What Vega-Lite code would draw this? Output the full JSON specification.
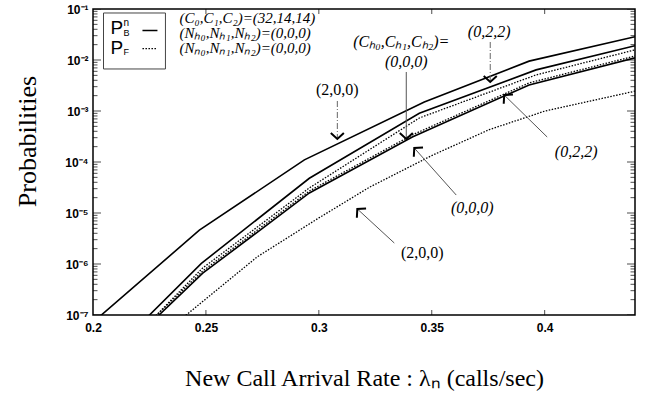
{
  "$schema": "https://vega.github.io/schema/vega-lite/v6.json",
  "width": 542,
  "height": 306,
  "autosize": "none",
  "padding": {"left": 93, "top": 9, "right": 10, "bottom": 82},
  "config": {
    "view": {"stroke": "#000", "strokeWidth": 1.5},
    "axis": {"domain": false, "grid": false, "labelColor": "#000", "titleColor": "#000"}
  },
  "datasets": {
    "curves": [
      {"lam": 0.2, "p": 7.2e-8, "series": "B200", "measure": "P_B"},
      {"lam": 0.2471, "p": 4.6e-6, "series": "B200", "measure": "P_B"},
      {"lam": 0.2936, "p": 1.1e-4, "series": "B200", "measure": "P_B"},
      {"lam": 0.3467, "p": 1.5e-3, "series": "B200", "measure": "P_B"},
      {"lam": 0.3931, "p": 9.5e-3, "series": "B200", "measure": "P_B"},
      {"lam": 0.44, "p": 2.85e-2, "series": "B200", "measure": "P_B"},
      {"lam": 0.22, "p": 6.0e-8, "series": "B022", "measure": "P_B"},
      {"lam": 0.248, "p": 1.03e-6, "series": "B022", "measure": "P_B"},
      {"lam": 0.2958, "p": 4.8e-5, "series": "B022", "measure": "P_B"},
      {"lam": 0.3445, "p": 9.0e-4, "series": "B022", "measure": "P_B"},
      {"lam": 0.3962, "p": 6.4e-3, "series": "B022", "measure": "P_B"},
      {"lam": 0.44, "p": 1.9e-2, "series": "B022", "measure": "P_B"},
      {"lam": 0.225, "p": 6.6e-8, "series": "B000", "measure": "P_B"},
      {"lam": 0.2486, "p": 6.6e-7, "series": "B000", "measure": "P_B"},
      {"lam": 0.2958, "p": 2.47e-5, "series": "B000", "measure": "P_B"},
      {"lam": 0.3414, "p": 3.1e-4, "series": "B000", "measure": "P_B"},
      {"lam": 0.3931, "p": 3.24e-3, "series": "B000", "measure": "P_B"},
      {"lam": 0.44, "p": 1.1e-2, "series": "B000", "measure": "P_B"},
      {"lam": 0.224, "p": 6.5e-8, "series": "F022", "measure": "P_F"},
      {"lam": 0.2485, "p": 8.3e-7, "series": "F022", "measure": "P_F"},
      {"lam": 0.2958, "p": 3.1e-5, "series": "F022", "measure": "P_F"},
      {"lam": 0.3445, "p": 7.3e-4, "series": "F022", "measure": "P_F"},
      {"lam": 0.3962, "p": 5.1e-3, "series": "F022", "measure": "P_F"},
      {"lam": 0.44, "p": 1.58e-2, "series": "F022", "measure": "P_F"},
      {"lam": 0.225, "p": 7.3e-8, "series": "F000", "measure": "P_F"},
      {"lam": 0.2486, "p": 7.3e-7, "series": "F000", "measure": "P_F"},
      {"lam": 0.2958, "p": 2.7e-5, "series": "F000", "measure": "P_F"},
      {"lam": 0.3414, "p": 3.4e-4, "series": "F000", "measure": "P_F"},
      {"lam": 0.3931, "p": 3.55e-3, "series": "F000", "measure": "P_F"},
      {"lam": 0.44, "p": 1.2e-2, "series": "F000", "measure": "P_F"},
      {"lam": 0.238, "p": 7.6e-8, "series": "F200", "measure": "P_F"},
      {"lam": 0.2728, "p": 1.39e-6, "series": "F200", "measure": "P_F"},
      {"lam": 0.3002, "p": 8.1e-6, "series": "F200", "measure": "P_F"},
      {"lam": 0.3224, "p": 3.2e-5, "series": "F200", "measure": "P_F"},
      {"lam": 0.3502, "p": 1.35e-4, "series": "F200", "measure": "P_F"},
      {"lam": 0.3754, "p": 4.3e-4, "series": "F200", "measure": "P_F"},
      {"lam": 0.4002, "p": 1.0e-3, "series": "F200", "measure": "P_F"},
      {"lam": 0.44, "p": 2.45e-3, "series": "F200", "measure": "P_F"}
    ],
    "yMajor": [{"p": 1e-7}, {"p": 1e-6}, {"p": 1e-5}, {"p": 1e-4}, {"p": 1e-3}, {"p": 1e-2}, {"p": 1e-1}],
    "yMinor": [
      {"p": 2e-7}, {"p": 3e-7}, {"p": 4e-7}, {"p": 5e-7}, {"p": 6e-7}, {"p": 7e-7}, {"p": 8e-7}, {"p": 9e-7},
      {"p": 2e-6}, {"p": 3e-6}, {"p": 4e-6}, {"p": 5e-6}, {"p": 6e-6}, {"p": 7e-6}, {"p": 8e-6}, {"p": 9e-6},
      {"p": 2e-5}, {"p": 3e-5}, {"p": 4e-5}, {"p": 5e-5}, {"p": 6e-5}, {"p": 7e-5}, {"p": 8e-5}, {"p": 9e-5},
      {"p": 2e-4}, {"p": 3e-4}, {"p": 4e-4}, {"p": 5e-4}, {"p": 6e-4}, {"p": 7e-4}, {"p": 8e-4}, {"p": 9e-4},
      {"p": 2e-3}, {"p": 3e-3}, {"p": 4e-3}, {"p": 5e-3}, {"p": 6e-3}, {"p": 7e-3}, {"p": 8e-3}, {"p": 9e-3},
      {"p": 2e-2}, {"p": 3e-2}, {"p": 4e-2}, {"p": 5e-2}, {"p": 6e-2}, {"p": 7e-2}, {"p": 8e-2}, {"p": 9e-2}
    ],
    "xMajor": [{"lam": 0.25}, {"lam": 0.3}, {"lam": 0.35}, {"lam": 0.4}],
    "notesItalic": [
      {"lam": 0.3365, "p": 0.02254, "label": "(Cₕ₀,Cₕ₁,Cₕ₂)="},
      {"lam": 0.33872, "p": 0.00914, "label": "(0,0,0)"},
      {"lam": 0.37544, "p": 0.0354, "label": "(0,2,2)"},
      {"lam": 0.41394, "p": 1.57e-4, "label": "(0,2,2)"},
      {"lam": 0.36792, "p": 1.25e-5, "label": "(0,0,0)"}
    ],
    "notesUpright": [
      {"lam": 0.30819, "p": 2.58e-3, "label": "(2,0,0)"},
      {"lam": 0.3458, "p": 1.64e-6, "label": "(2,0,0)"}
    ],
    "params": [
      {"lam": 0.2383, "p": 0.0667, "label": "(C₀,C₁,C₂)=(32,14,14)"},
      {"lam": 0.2383, "p": 0.0338, "label": "(Nₕ₀,Nₕ₁,Nₕ₂)=(0,0,0)"},
      {"lam": 0.2383, "p": 0.0172, "label": "(Nₙ₀,Nₙ₁,Nₙ₂)=(0,0,0)"}
    ],
    "arrowsDash": [
      {"lam": 0.30819, "p": 1.57e-3, "lam2": 0.30819, "p2": 2.9e-4},
      {"lam": 0.3759, "p": 0.02254, "lam2": 0.3759, "p2": 3.8e-3}
    ],
    "arrowsSolid": [
      {"lam": 0.33872, "p": 0.00582, "lam2": 0.33872, "p2": 2.9e-4},
      {"lam": 0.40111, "p": 3.09e-4, "lam2": 0.38208, "p2": 2.06e-3},
      {"lam": 0.36084, "p": 2.25e-5, "lam2": 0.34226, "p2": 1.88e-4},
      {"lam": 0.33341, "p": 2.58e-6, "lam2": 0.31704, "p2": 1.2e-5}
    ],
    "headsDown": [
      {"lam": 0.30819, "p": 2.83e-4},
      {"lam": 0.3759, "p": 3.71e-3},
      {"lam": 0.33872, "p": 2.83e-4}
    ],
    "headsUpLeft": [
      {"lam": 0.38208, "p": 2.06e-3},
      {"lam": 0.34226, "p": 1.88e-4},
      {"lam": 0.31704, "p": 1.2e-5}
    ],
    "legendBox": [
      {"lam": 0.20465, "p": 0.0835, "lam2": 0.23208, "p2": 0.00667}
    ],
    "legendP": [
      {"lam": 0.20774, "p": 0.03236, "label": "P"},
      {"lam": 0.20774, "p": 0.01312, "label": "P"}
    ],
    "legendSub": [
      {"lam": 0.2135, "p": 0.02955, "label": "B"},
      {"lam": 0.2135, "p": 0.01253, "label": "F"}
    ],
    "legendSup": [
      {"lam": 0.2135, "p": 0.04645, "label": "n"}
    ],
    "legendLines": [
      {"lam": 0.2219, "lam2": 0.22854, "p": 0.03788, "measure": "P_B"},
      {"lam": 0.2219, "lam2": 0.22854, "p": 0.01667, "measure": "P_F"}
    ]
  },
  "layer": [
    {
      "data": {"name": "curves"},
      "transform": [{"filter": "datum.measure === 'P_B'"}],
      "mark": {"type": "line", "clip": true, "color": "#000", "strokeWidth": 1.6},
      "encoding": {
        "x": {"field": "lam", "type": "quantitative",
              "scale": {"domain": [0.2, 0.44], "nice": false, "zero": false},
              "axis": {"orient": "bottom", "values": [0.2, 0.25, 0.3, 0.35, 0.4], "format": "~g", "ticks": false,
                       "labelPadding": 7, "labelFont": "Liberation Sans", "labelFontSize": 12, "labelFontWeight": "bold",
                       "labelFlush": false, "labelOverlap": false,
                       "title": "New Call Arrival Rate : λₙ (calls/sec)", "titleFont": "Liberation Serif",
                       "titleFontSize": 24, "titleFontWeight": "normal", "titleY": 63, "titleBaseline": "middle"}},
        "y": {"field": "p", "type": "quantitative",
              "scale": {"type": "log", "domain": [1e-7, 0.1], "nice": false},
              "axis": {"orient": "left", "values": [1e-7, 1e-6, 1e-5, 1e-4, 1e-3, 1e-2, 1e-1],
                       "labelExpr": "'10' + ['⁰','⁻¹','⁻²','⁻³','⁻⁴','⁻⁵','⁻⁶','⁻⁷'][round(-log(datum.value)/LN10)]",
                       "ticks": false, "labelPadding": 5, "labelFont": "Liberation Sans", "labelFontSize": 12,
                       "labelFontWeight": "bold", "labelFlush": false, "labelOverlap": false,
                       "title": "Probabilities", "titleFont": "Liberation Serif", "titleFontSize": 26,
                       "titleFontWeight": "normal", "titleX": -66, "titleY": 132, "titleBaseline": "middle"}},
        "detail": {"field": "series"}
      }
    },
    {
      "data": {"name": "curves"},
      "transform": [{"filter": "datum.measure === 'P_F'"}],
      "mark": {"type": "line", "clip": true, "color": "#000", "strokeWidth": 1.3, "strokeDash": [1.5, 1.5]},
      "encoding": {
        "x": {"field": "lam", "type": "quantitative", "scale": {"domain": [0.2, 0.44], "nice": false, "zero": false}, "axis": null},
        "y": {"field": "p", "type": "quantitative", "scale": {"type": "log", "domain": [1e-7, 0.1], "nice": false}, "axis": null},
        "detail": {"field": "series"}
      }
    },
    {
      "data": {"name": "yMajor"},
      "mark": {"type": "tick", "orient": "horizontal", "clip": true, "color": "#000", "size": 16, "thickness": 1},
      "encoding": {
        "x": {"datum": 0.2, "type": "quantitative", "scale": {"domain": [0.2, 0.44], "nice": false, "zero": false}, "axis": null},
        "y": {"field": "p", "type": "quantitative", "scale": {"type": "log", "domain": [1e-7, 0.1], "nice": false}, "axis": null}
      }
    },
    {
      "data": {"name": "yMajor"},
      "mark": {"type": "tick", "orient": "horizontal", "clip": true, "color": "#000", "size": 16, "thickness": 1},
      "encoding": {
        "x": {"datum": 0.44, "type": "quantitative", "scale": {"domain": [0.2, 0.44], "nice": false, "zero": false}, "axis": null},
        "y": {"field": "p", "type": "quantitative", "scale": {"type": "log", "domain": [1e-7, 0.1], "nice": false}, "axis": null}
      }
    },
    {
      "data": {"name": "yMinor"},
      "mark": {"type": "tick", "orient": "horizontal", "clip": true, "color": "#000", "size": 9, "thickness": 1},
      "encoding": {
        "x": {"datum": 0.2, "type": "quantitative", "scale": {"domain": [0.2, 0.44], "nice": false, "zero": false}, "axis": null},
        "y": {"field": "p", "type": "quantitative", "scale": {"type": "log", "domain": [1e-7, 0.1], "nice": false}, "axis": null}
      }
    },
    {
      "data": {"name": "yMinor"},
      "mark": {"type": "tick", "orient": "horizontal", "clip": true, "color": "#000", "size": 9, "thickness": 1},
      "encoding": {
        "x": {"datum": 0.44, "type": "quantitative", "scale": {"domain": [0.2, 0.44], "nice": false, "zero": false}, "axis": null},
        "y": {"field": "p", "type": "quantitative", "scale": {"type": "log", "domain": [1e-7, 0.1], "nice": false}, "axis": null}
      }
    },
    {
      "data": {"name": "xMajor"},
      "mark": {"type": "tick", "orient": "vertical", "clip": true, "color": "#000", "size": 10, "thickness": 1},
      "encoding": {
        "x": {"field": "lam", "type": "quantitative", "scale": {"domain": [0.2, 0.44], "nice": false, "zero": false}, "axis": null},
        "y": {"datum": 1e-7, "type": "quantitative", "scale": {"type": "log", "domain": [1e-7, 0.1], "nice": false}, "axis": null}
      }
    },
    {
      "data": {"name": "xMajor"},
      "mark": {"type": "tick", "orient": "vertical", "clip": true, "color": "#000", "size": 10, "thickness": 1},
      "encoding": {
        "x": {"field": "lam", "type": "quantitative", "scale": {"domain": [0.2, 0.44], "nice": false, "zero": false}, "axis": null},
        "y": {"datum": 0.1, "type": "quantitative", "scale": {"type": "log", "domain": [1e-7, 0.1], "nice": false}, "axis": null}
      }
    },
    {
      "data": {"name": "legendBox"},
      "mark": {"type": "rect", "fill": "#fff", "stroke": "#444", "strokeWidth": 1},
      "encoding": {
        "x": {"field": "lam", "type": "quantitative", "scale": {"domain": [0.2, 0.44], "nice": false, "zero": false}, "axis": null},
        "x2": {"field": "lam2"},
        "y": {"field": "p", "type": "quantitative", "scale": {"type": "log", "domain": [1e-7, 0.1], "nice": false}, "axis": null},
        "y2": {"field": "p2"}
      }
    },
    {
      "data": {"name": "notesItalic"},
      "mark": {"type": "text", "font": "Liberation Serif", "fontStyle": "italic", "fontSize": 16, "align": "center", "baseline": "middle", "color": "#000"},
      "encoding": {
        "x": {"field": "lam", "type": "quantitative", "scale": {"domain": [0.2, 0.44], "nice": false, "zero": false}, "axis": null},
        "y": {"field": "p", "type": "quantitative", "scale": {"type": "log", "domain": [1e-7, 0.1], "nice": false}, "axis": null},
        "text": {"field": "label"}
      }
    },
    {
      "data": {"name": "notesUpright"},
      "mark": {"type": "text", "font": "Liberation Serif", "fontSize": 16, "align": "center", "baseline": "middle", "color": "#000"},
      "encoding": {
        "x": {"field": "lam", "type": "quantitative", "scale": {"domain": [0.2, 0.44], "nice": false, "zero": false}, "axis": null},
        "y": {"field": "p", "type": "quantitative", "scale": {"type": "log", "domain": [1e-7, 0.1], "nice": false}, "axis": null},
        "text": {"field": "label"}
      }
    },
    {
      "data": {"name": "params"},
      "mark": {"type": "text", "font": "Liberation Serif", "fontStyle": "italic", "fontSize": 15, "align": "left", "baseline": "middle", "color": "#000"},
      "encoding": {
        "x": {"field": "lam", "type": "quantitative", "scale": {"domain": [0.2, 0.44], "nice": false, "zero": false}, "axis": null},
        "y": {"field": "p", "type": "quantitative", "scale": {"type": "log", "domain": [1e-7, 0.1], "nice": false}, "axis": null},
        "text": {"field": "label"}
      }
    },
    {
      "data": {"name": "arrowsDash"},
      "mark": {"type": "rule", "color": "#666", "strokeWidth": 1, "strokeDash": [6, 2, 1, 2]},
      "encoding": {
        "x": {"field": "lam", "type": "quantitative", "scale": {"domain": [0.2, 0.44], "nice": false, "zero": false}, "axis": null},
        "y": {"field": "p", "type": "quantitative", "scale": {"type": "log", "domain": [1e-7, 0.1], "nice": false}, "axis": null},
        "x2": {"field": "lam2"},
        "y2": {"field": "p2"}
      }
    },
    {
      "data": {"name": "arrowsSolid"},
      "mark": {"type": "rule", "color": "#555", "strokeWidth": 1},
      "encoding": {
        "x": {"field": "lam", "type": "quantitative", "scale": {"domain": [0.2, 0.44], "nice": false, "zero": false}, "axis": null},
        "y": {"field": "p", "type": "quantitative", "scale": {"type": "log", "domain": [1e-7, 0.1], "nice": false}, "axis": null},
        "x2": {"field": "lam2"},
        "y2": {"field": "p2"}
      }
    },
    {
      "data": {"name": "headsDown"},
      "mark": {"type": "point", "shape": "M-1,-0.9L0,0L1,-0.9", "filled": false, "stroke": "#000", "strokeWidth": 2, "size": 170, "angle": 0, "opacity": 1},
      "encoding": {
        "x": {"field": "lam", "type": "quantitative", "scale": {"domain": [0.2, 0.44], "nice": false, "zero": false}, "axis": null},
        "y": {"field": "p", "type": "quantitative", "scale": {"type": "log", "domain": [1e-7, 0.1], "nice": false}, "axis": null}
      }
    },
    {
      "data": {"name": "headsUpLeft"},
      "mark": {"type": "point", "shape": "M-1,-0.9L0,0L1,-0.9", "filled": false, "stroke": "#000", "strokeWidth": 2, "size": 170, "angle": 135, "opacity": 1},
      "encoding": {
        "x": {"field": "lam", "type": "quantitative", "scale": {"domain": [0.2, 0.44], "nice": false, "zero": false}, "axis": null},
        "y": {"field": "p", "type": "quantitative", "scale": {"type": "log", "domain": [1e-7, 0.1], "nice": false}, "axis": null}
      }
    },
    {
      "data": {"name": "legendP"},
      "mark": {"type": "text", "font": "Liberation Sans", "fontSize": 19, "align": "left", "baseline": "alphabetic", "color": "#000"},
      "encoding": {
        "x": {"field": "lam", "type": "quantitative", "scale": {"domain": [0.2, 0.44], "nice": false, "zero": false}, "axis": null},
        "y": {"field": "p", "type": "quantitative", "scale": {"type": "log", "domain": [1e-7, 0.1], "nice": false}, "axis": null},
        "text": {"field": "label"}
      }
    },
    {
      "data": {"name": "legendSub"},
      "mark": {"type": "text", "font": "Liberation Sans", "fontSize": 9, "align": "left", "baseline": "alphabetic", "color": "#000"},
      "encoding": {
        "x": {"field": "lam", "type": "quantitative", "scale": {"domain": [0.2, 0.44], "nice": false, "zero": false}, "axis": null},
        "y": {"field": "p", "type": "quantitative", "scale": {"type": "log", "domain": [1e-7, 0.1], "nice": false}, "axis": null},
        "text": {"field": "label"}
      }
    },
    {
      "data": {"name": "legendSup"},
      "mark": {"type": "text", "font": "Liberation Sans", "fontSize": 10, "align": "left", "baseline": "alphabetic", "color": "#000"},
      "encoding": {
        "x": {"field": "lam", "type": "quantitative", "scale": {"domain": [0.2, 0.44], "nice": false, "zero": false}, "axis": null},
        "y": {"field": "p", "type": "quantitative", "scale": {"type": "log", "domain": [1e-7, 0.1], "nice": false}, "axis": null},
        "text": {"field": "label"}
      }
    },
    {
      "data": {"name": "legendLines"},
      "mark": {"type": "rule", "color": "#000", "strokeWidth": 1.3},
      "encoding": {
        "x": {"field": "lam", "type": "quantitative", "scale": {"domain": [0.2, 0.44], "nice": false, "zero": false}, "axis": null},
        "x2": {"field": "lam2"},
        "y": {"field": "p", "type": "quantitative", "scale": {"type": "log", "domain": [1e-7, 0.1], "nice": false}, "axis": null},
        "strokeDash": {"field": "measure", "type": "nominal", "scale": {"domain": ["P_B", "P_F"], "range": [[1, 0], [1.5, 1.5]]}, "legend": null}
      }
    }
  ],
  "resolve": {"scale": {"x": "independent", "y": "independent"}, "axis": {"x": "independent", "y": "independent"}}
}
